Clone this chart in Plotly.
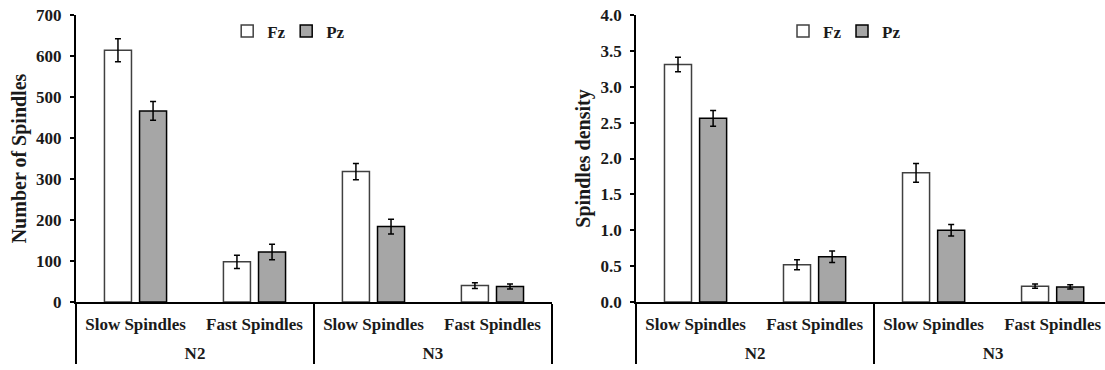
import plotly.graph_objects as go

stages = ["N2", "N2", "N3", "N3"]
types = ["Slow Spindles", "Fast Spindles", "Slow Spindles", "Fast Spindles"]

count_fz = [614, 98, 318, 40]
count_fz_err = [28, 16, 20, 7]
count_pz = [466, 122, 184, 38]
count_pz_err = [23, 19, 18, 6]

dens_fz = [3.31, 0.52, 1.80, 0.22]
dens_fz_err = [0.10, 0.07, 0.13, 0.03]
dens_pz = [2.56, 0.63, 1.00, 0.21]
dens_pz_err = [0.11, 0.08, 0.08, 0.03]

y1_ticks = [0, 100, 200, 300, 400, 500, 600, 700]
y2_ticks = [0.0, 0.5, 1.0, 1.5, 2.0, 2.5, 3.0, 3.5, 4.0]

FONT = "Liberation Serif"
GRAY = "#A6A6A6"
TXT = "#1a1a1a"

def lab(s):
    return "<span style='font-size:17px'>" + s + "</span>"

stage_labels = [lab(s) for s in stages]
type_labels = [lab(t) for t in types]

fig = go.Figure()

def add(y, err, name, color, line_color, xa, ya, legend):
    fig.add_trace(go.Bar(
        x=[stage_labels, type_labels], y=y, name=name,
        marker=dict(color=color, line=dict(color=line_color, width=1.5)),
        error_y=dict(type="data", array=err, color="black", thickness=1.5, width=3),
        xaxis=xa, yaxis=ya, legend=legend, showlegend=True,
    ))

add(count_fz, count_fz_err, "Fz", "white", "#404040", "x", "y", "legend")
add(count_pz, count_pz_err, "Pz", GRAY, "black", "x", "y", "legend")
add(dens_fz, dens_fz_err, "Fz", "white", "#404040", "x2", "y2", "legend2")
add(dens_pz, dens_pz_err, "Pz", GRAY, "black", "x2", "y2", "legend2")

xcommon = dict(type="multicategory", showline=True, linecolor="black", linewidth=2,
               ticks="", showgrid=False, showdividers=True, dividercolor="black",
               dividerwidth=1.5, ticklabelstandoff=-8,
               tickfont=dict(family=FONT, size=28, color=TXT, weight="bold"))
ycommon = dict(showline=True, linecolor="black", linewidth=2, ticks="outside", ticklen=4,
               tickwidth=2, tickcolor="black", showgrid=False, zeroline=False,
               ticklabelstandoff=5,
               tickfont=dict(family=FONT, size=17, color=TXT, weight="bold"))

legcommon = dict(orientation="h", xanchor="center", y=0.943, yanchor="middle",
                 font=dict(family=FONT, size=17, weight="bold", color=TXT), itemwidth=30,
                 entrywidth=14, bgcolor="rgba(0,0,0,0)", tracegroupgap=0)

fig.update_layout(
    width=1105, height=370,
    margin=dict(l=0, r=0, t=15, b=68),
    paper_bgcolor="white", plot_bgcolor="white",
    font=dict(family=FONT, weight="bold", color=TXT),
    barmode="group", bargap=0.41, bargroupgap=0.23,
    xaxis=dict(domain=[0.0688, 0.4995], range=[-0.5, 3.5], anchor="y", **xcommon),
    xaxis2=dict(domain=[0.5756, 1.0], range=[-0.5, 3.44], anchor="y2", **xcommon),
    yaxis=dict(range=[0, 700], tickvals=y1_ticks, anchor="x",
               title=dict(text="Number of Spindles", font=dict(family=FONT, size=20, weight="bold", color=TXT), standoff=4),
               **ycommon),
    yaxis2=dict(range=[0, 4.0], tickvals=y2_ticks, tickformat=".1f", anchor="x2",
                title=dict(text="Spindles density", font=dict(family=FONT, size=20, weight="bold", color=TXT), standoff=4),
                **ycommon),
    legend=dict(x=0.259, **legcommon),
    legend2=dict(x=0.762, **legcommon),
)

fig.write_html("out.html")
